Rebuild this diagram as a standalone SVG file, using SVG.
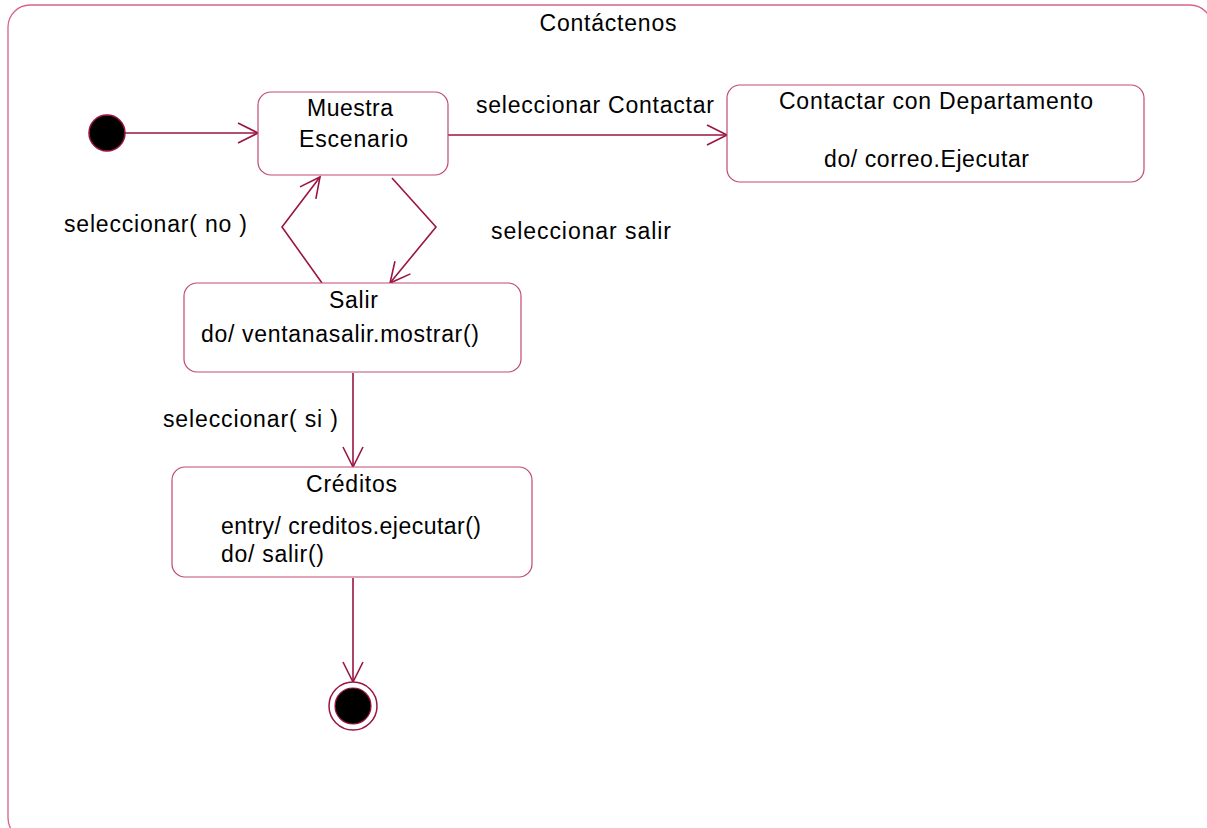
<svg xmlns="http://www.w3.org/2000/svg" width="1207" height="828" viewBox="0 0 1207 828">
<style>
text{font-family:"Liberation Sans",Arial,sans-serif;font-size:23px;fill:#000}
.st{fill:#fff;stroke:#c04a70;stroke-width:1.2}
.frame{fill:#fff;stroke:#d8608a;stroke-width:1.3}
.c{fill:none;stroke:#9a1540;stroke-width:1.6}
.m{text-anchor:middle}
</style>
<defs>
<marker id="a" viewBox="0 0 24 24" refX="22" refY="12" markerWidth="24" markerHeight="24" markerUnits="userSpaceOnUse" orient="auto">
<path d="M2,2 L22,12 L2,22" fill="none" stroke="#9a1540" stroke-width="1.6"/>
</marker>
</defs>
<g id="frame">
<rect class="frame" x="8" y="5" width="1204" height="835" rx="22"/>
<text class="m" x="608" y="31" textLength="137">Contáctenos</text>
</g>
<g id="connectors">
<line class="c" x1="125" y1="133" x2="258" y2="133" marker-end="url(#a)"/>
<line class="c" x1="448" y1="135" x2="727" y2="135" marker-end="url(#a)"/>
<polyline class="c" points="392,178 436,227 390,283" marker-end="url(#a)"/>
<polyline class="c" points="322,283 282,227 320,177" marker-end="url(#a)"/>
<line class="c" x1="353" y1="373" x2="353" y2="467" marker-end="url(#a)"/>
<line class="c" x1="353" y1="578" x2="353" y2="682" marker-end="url(#a)"/>
<text x="476" y="113" textLength="238">seleccionar Contactar</text>
<text x="64" y="232" textLength="183">seleccionar( no )</text>
<text x="491" y="239" textLength="180">seleccionar salir</text>
<text x="163" y="427" textLength="175">seleccionar( si )</text>
</g>
<g id="initial">
<circle cx="107" cy="133" r="18" fill="#000" stroke="#9a1540" stroke-width="1.5"/>
</g>
<g id="muestra">
<rect class="st" x="258" y="92" width="190" height="83" rx="13"/>
<text class="m" x="350" y="116" textLength="86">Muestra</text>
<text class="m" x="353.500" y="147" textLength="109">Escenario</text>
</g>
<g id="contactar">
<rect class="st" x="727" y="85" width="417" height="97" rx="13"/>
<text class="m" x="936" y="109" textLength="314">Contactar con Departamento</text>
<text class="m" x="926.500" y="167" textLength="205">do/ correo.Ejecutar</text>
</g>
<g id="salir">
<rect class="st" x="184" y="283" width="337" height="89" rx="13"/>
<text class="m" x="353.500" y="308" textLength="49">Salir</text>
<text x="201" y="342" textLength="278">do/ ventanasalir.mostrar()</text>
</g>
<g id="creditos">
<rect class="st" x="172" y="467" width="360" height="110" rx="13"/>
<text class="m" x="351.500" y="492" textLength="91">Créditos</text>
<text x="221" y="534" textLength="260">entry/ creditos.ejecutar()</text>
<text x="221" y="562" textLength="103">do/ salir()</text>
</g>
<g id="final">
<circle cx="353" cy="706" r="24" fill="#fff" stroke="#9a1540" stroke-width="1.5"/>
<circle cx="353" cy="706" r="18" fill="#000" stroke="#9a1540" stroke-width="1.2"/>
</g>
</svg>
